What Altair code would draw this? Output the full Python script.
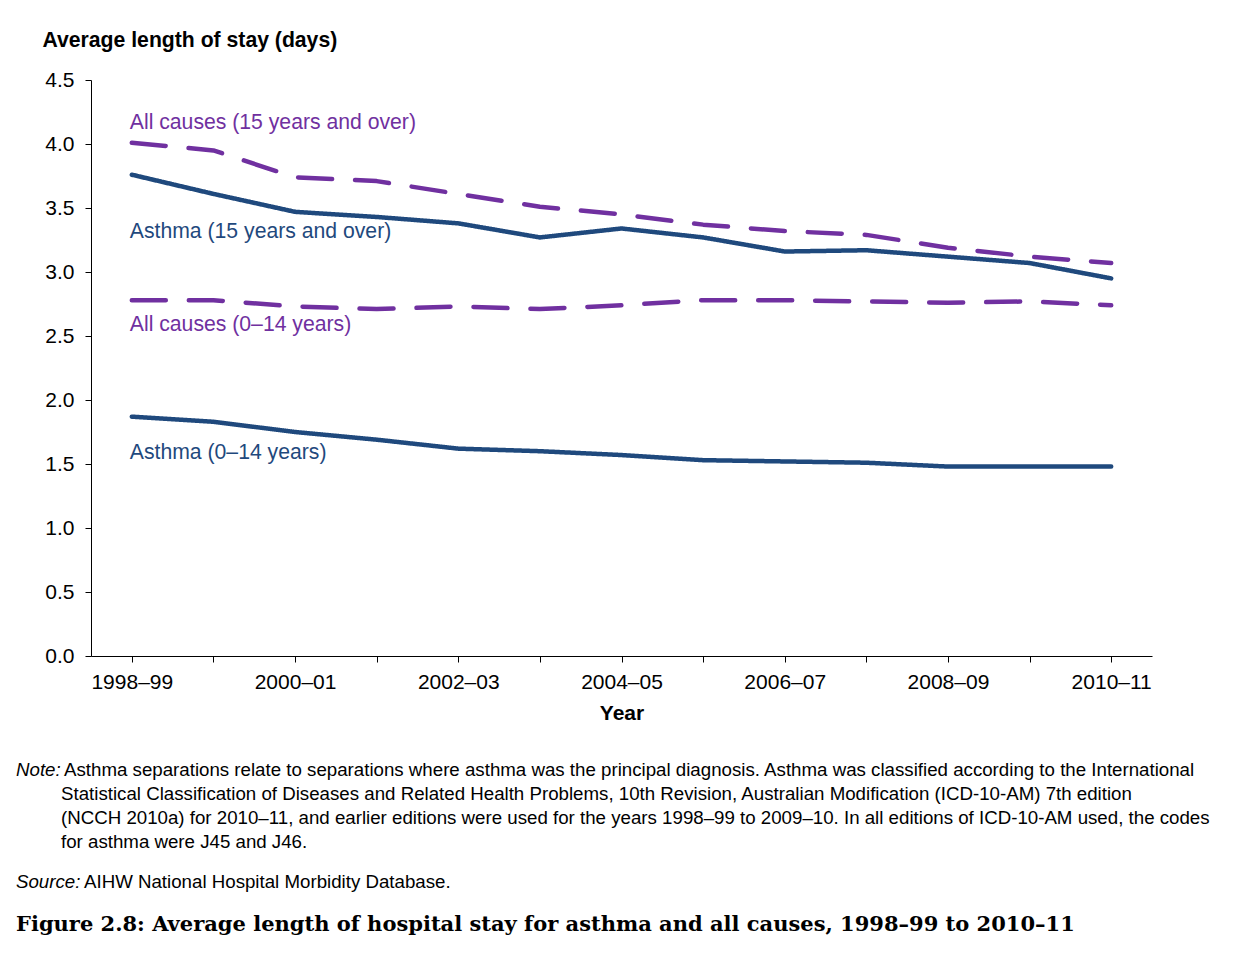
import altair as alt
import pandas as pd

years = ["1998–99", "1999–00", "2000–01", "2001–02", "2002–03", "2003–04", "2004–05",
         "2005–06", "2006–07", "2007–08", "2008–09", "2009–10", "2010–11"]
shown_years = ["1998–99", "2000–01", "2002–03", "2004–05", "2006–07", "2008–09", "2010–11"]

all_causes_15 = [4.01, 3.95, 3.74, 3.71, 3.61, 3.51, 3.45, 3.37, 3.32, 3.29, 3.19, 3.12, 3.07]
asthma_15 = [3.76, 3.61, 3.47, 3.43, 3.38, 3.27, 3.34, 3.27, 3.16, 3.17, 3.12, 3.07, 2.95]
all_causes_014 = [2.78, 2.78, 2.73, 2.71, 2.73, 2.71, 2.74, 2.78, 2.78, 2.77, 2.76, 2.77, 2.74]
asthma_014 = [1.87, 1.83, 1.75, 1.69, 1.62, 1.60, 1.57, 1.53, 1.52, 1.51, 1.48, 1.48, 1.48]

series_names = ["All causes (15 years and over)", "Asthma (15 years and over)",
                "All causes (0–14 years)", "Asthma (0–14 years)"]
series_values = [all_causes_15, asthma_15, all_causes_014, asthma_014]
series_colors = ["#7030A0", "#1F497D", "#7030A0", "#1F497D"]
series_dash = [[34, 23], [1, 0], [34, 23], [1, 0]]

label_values = [4.17, 3.32, 2.59, 1.59]

y_ticks = [0.0, 0.5, 1.0, 1.5, 2.0, 2.5, 3.0, 3.5, 4.0, 4.5]

note_lines = [
    "Asthma separations relate to separations where asthma was the principal diagnosis. Asthma was classified according to the International",
    "Statistical Classification of Diseases and Related Health Problems, 10th Revision, Australian Modification (ICD-10-AM) 7th edition",
    "(NCCH 2010a) for 2010–11, and earlier editions were used for the years 1998–99 to 2009–10. In all editions of ICD-10-AM used, the codes",
    "for asthma were J45 and J46.",
]
source_text = "AIHW National Hospital Morbidity Database."
caption_text = "Figure 2.8: Average length of hospital stay for asthma and all causes, 1998–99 to 2010–11"

FONT = "Liberation Sans"

rows = []
for name, vals in zip(series_names, series_values):
    for yr, v in zip(years, vals):
        rows.append({"year": yr, "value": v, "series": name})
df = pd.DataFrame(rows)

labels_df = pd.DataFrame({"series": series_names, "value": label_values,
                          "year": [years[0]] * 4})

x_enc = alt.X("year:O", sort=years, scale=alt.Scale(type="point", padding=0.5),
              axis=alt.Axis(title="Year", labelAngle=0, labelFont=FONT, labelFontSize=21,
                            labelColor="black", titleFont=FONT, titleFontSize=21,
                            titleFontWeight="bold", titleColor="black",
                            labelExpr="indexof(" + str(shown_years) + ", datum.value) >= 0 ? datum.label : ''",
                            tickSize=6, tickColor="black", domainColor="black",
                            labelPadding=9, titlePadding=10, grid=False))

y_enc = alt.Y("value:Q", scale=alt.Scale(domain=[0, 4.5], nice=False),
              axis=alt.Axis(title="Average length of stay (days)", values=y_ticks, format=".1f",
                            labelFont=FONT, labelFontSize=21, labelColor="black",
                            titleFont=FONT, titleFontSize=21.2, titleFontWeight="bold",
                            titleColor="black", titleAngle=0, titleAlign="left",
                            titleBaseline="middle", titleX=-49, titleY=-40,
                            tickSize=6, tickColor="black", domainColor="black",
                            labelPadding=11, grid=False))

color_scale = alt.Scale(domain=series_names, range=series_colors)

lines = alt.Chart(df).mark_line(strokeWidth=4.5, strokeCap="round", strokeJoin="round").encode(
    x=x_enc,
    y=y_enc,
    color=alt.Color("series:N", scale=color_scale, legend=None),
    strokeDash=alt.StrokeDash("series:N", scale=alt.Scale(domain=series_names, range=series_dash),
                              legend=None),
    detail="series:N",
)

line_labels = alt.Chart(labels_df).mark_text(align="left", baseline="middle", dx=-2, dy=1,
                                             font=FONT, fontSize=21.2).encode(
    x=alt.X("year:O", sort=years),
    y="value:Q",
    text="series:N",
    color=alt.Color("series:N", scale=color_scale, legend=None),
)


def txt(s, x, y, size=18.7, style="normal", weight="normal", font=FONT):
    return alt.Chart(pd.DataFrame({"t": [s]})).mark_text(
        align="left", baseline="middle", font=font, fontSize=size,
        fontStyle=style, fontWeight=weight, color="black").encode(
        x=alt.value(x), y=alt.value(y), text="t:N")


notes = [txt("Note:", -75, 690, style="italic"), txt(note_lines[0], -27, 690)]
for i, line in enumerate(note_lines[1:]):
    notes.append(txt(line, -30, 714 + 24 * i))
notes.append(txt("Source:", -75, 802, style="italic"))
notes.append(txt(source_text, -7, 802))
notes.append(txt(caption_text, -75, 845, size=21, weight="bold", font="DejaVu Serif"))

chart = alt.layer(lines, line_labels, *notes).properties(
    width=1061, height=576,
    autosize=alt.AutoSizeParams(type="none"),
    padding={"left": 83, "top": 72, "right": 79, "bottom": 292},
).configure(background="white").configure_view(strokeWidth=0, stroke="transparent")

chart.save("out.html", embed_options={"renderer": "svg", "actions": False})
